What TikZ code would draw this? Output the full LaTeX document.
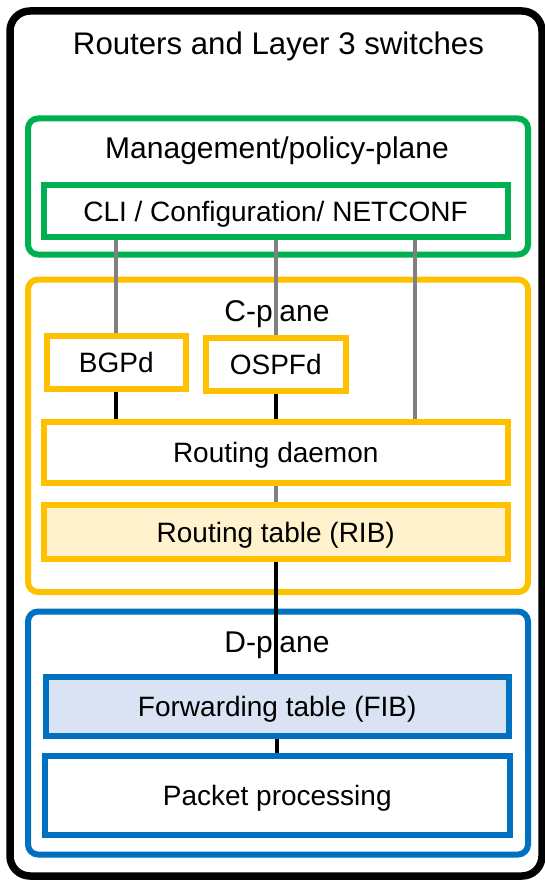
\documentclass[tikz,border=0pt]{standalone}
\usepackage{fontspec}
\setmainfont{Liberation Sans}
\definecolor{mgreen}{HTML}{00B050}
\definecolor{myellow}{HTML}{FFC000}
\definecolor{mblue}{HTML}{0070C0}
\definecolor{mgray}{HTML}{808080}
\definecolor{ribfill}{HTML}{FFF2CC}
\definecolor{fibfill}{HTML}{DAE3F3}
\pgfdeclarelayer{back}
\pgfdeclarelayer{wires}
\pgfsetlayers{back,wires,main}
\tikzset{
  outerbox/.style={draw=black, line width=7.5pt, rounded corners=20pt, inner sep=0pt, outer sep=0pt},
  plane/.style={draw, line width=6pt, rounded corners=10pt, inner sep=0pt, outer sep=0pt},
  unit/.style={draw, line width=6pt, fill=white, inner sep=0pt, outer sep=0pt,
    font=\fontsize{28}{32}\selectfont, text height=20pt, text depth=0pt},
  lbl/.style={anchor=base, inner sep=0pt, font=\fontsize{30}{36}\selectfont},
  mwire/.style={draw=mgray, line width=4pt},
  dwire/.style={draw=black, line width=4pt},
}
\begin{document}
\begin{tikzpicture}[x=1pt,y=-1pt]
\useasboundingbox (0,0) rectangle (545,880);
\begin{pgfonlayer}{back}
  \node[outerbox, minimum width=532pt, minimum height=865pt] (router) at (276,443.5) {};
  \node[lbl, font=\fontsize{31.2}{36}\selectfont] (title) at (278.5,55) {Routers and Layer 3 switches};
  \node[plane, draw=mgreen, minimum width=500pt, minimum height=136pt] (mplane) at (278,186.5) {};
  \node[lbl] (mlabel) at (277,158) {Management/policy-plane};
  \node[plane, draw=myellow, minimum width=500pt, minimum height=312.5pt] (cplane) at (278,435.75) {};
  \node[lbl] (clabel) at (277,321) {C-plane};
  \node[plane, draw=mblue, minimum width=500pt, minimum height=243pt] (dplane) at (278,733) {};
  \node[lbl] (dlabel) at (277,652) {D-plane};
\end{pgfonlayer}

\node[unit, draw=mgreen, minimum width=464pt, minimum height=52pt] (cli) at (275.5,211) {CLI / Configuration/ NETCONF};
\node[unit, draw=myellow, minimum width=139.5pt, minimum height=53pt] (bgp) at (116.25,362.5) {BGPd};
\node[unit, draw=myellow, minimum width=139.5pt, minimum height=53pt] (ospf) at (275.75,364.5) {OSPFd};
\node[unit, draw=myellow, minimum width=463.5pt, minimum height=61pt] (rd) at (275.75,452.5) {Routing daemon};
\node[unit, draw=myellow, fill=ribfill, minimum width=463.5pt, minimum height=54pt] (rib) at (275.75,532) {Routing table (RIB)};
\node[unit, draw=mblue, fill=fibfill, minimum width=463.5pt, minimum height=59.5pt] (fib) at (277.25,706.5) {Forwarding table (FIB)};
\node[unit, draw=mblue, minimum width=464.5pt, minimum height=78.5pt] (pp) at (277.25,795.25) {Packet processing};

\coordinate (tap) at (415,0);
\begin{pgfonlayer}{wires}
  \draw[mwire] (bgp.north) -- (bgp.north |- cli.south);
  \draw[mwire] (ospf.north) -- (ospf.north |- cli.south);
  \draw[mwire] (tap |- cli.south) -- (tap |- rd.north);
  \draw[dwire] (bgp.south) -- (bgp.south |- rd.north);
  \draw[dwire] (ospf.south) -- (ospf.south |- rd.north);
  \draw[mwire] (rd.south) -- (rib.north);
  \draw[dwire] (rib.south) -- (rib.south |- fib.north);
  \draw[dwire] (fib.south) -- (fib.south |- pp.north);
\end{pgfonlayer}
\end{tikzpicture}
\end{document}
